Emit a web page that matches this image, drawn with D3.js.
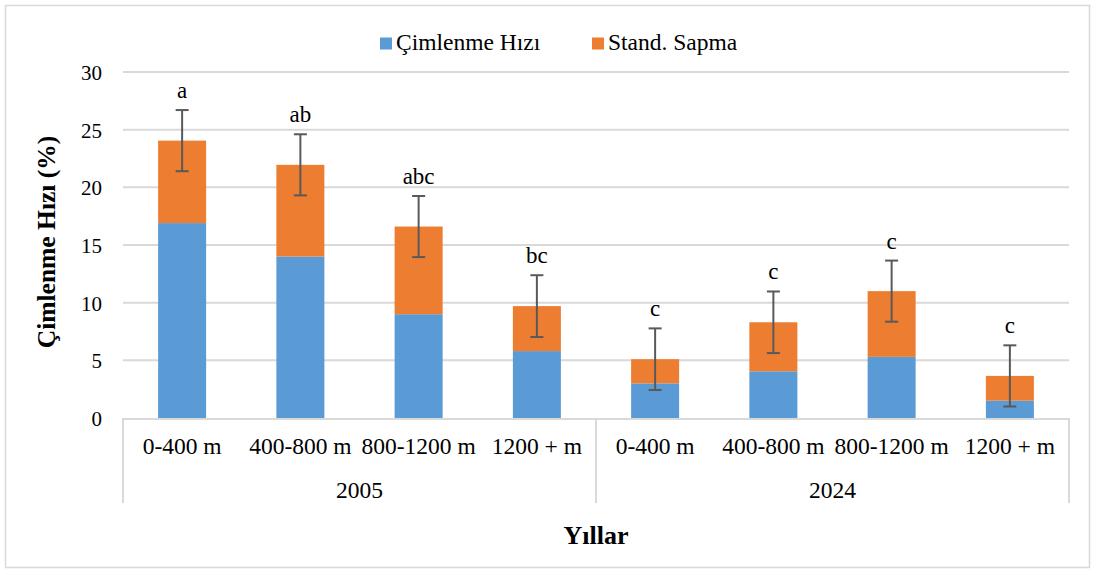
<!DOCTYPE html>
<html><head><meta charset="utf-8">
<script src="https://cdn.jsdelivr.net/npm/d3@7"></script>
<style>body{margin:0;background:#fff}svg{display:block}</style>
</head><body>
<svg id="c" width="1093" height="570"></svg>
<script>
const groups = ["2005","2005","2005","2005","2024","2024","2024","2024"];
const categories = ["0-400 m","400-800 m","800-1200 m","1200 + m","0-400 m","400-800 m","800-1200 m","1200 + m"];
const cimlenme = [16.9, 14.0, 9.0, 5.8, 3.0, 4.05, 5.3, 1.5];
const sapma = [7.15, 7.95, 7.6, 3.9, 2.1, 4.25, 5.7, 2.15];
const errors = [2.65, 2.65, 2.65, 2.68, 2.67, 2.67, 2.65, 2.65];
const letters = ["a","ab","abc","bc","c","c","c","c"];
const yTicks = [0,5,10,15,20,25,30];
const seriesNames = ["Çimlenme Hızı","Stand. Sapma"];
const colors = ["#5b9bd5","#ed7d31"];

const FONT = "'Liberation Serif', 'Times New Roman', serif";
const svg = d3.select("#c").attr("font-family", FONT);
// chart border
svg.append("rect").attr("x",5.5).attr("y",5.5).attr("width",1084).attr("height",562)
  .attr("fill","none").attr("stroke","#d9d9d9").attr("stroke-width",1.5);

const L=123, R=1069, T=72, B=418;
const idx = d3.range(categories.length);
const x = d3.scaleBand().domain(idx).range([L,R]).paddingInner(0.594).paddingOuter(0.297);
const y = d3.scaleLinear().domain([0,30]).range([B,T]);

// grid
svg.append("g").selectAll("line").data(yTicks.filter(d=>d>0)).join("line")
  .attr("x1",L).attr("x2",R).attr("y1",d=>y(d)).attr("y2",d=>y(d))
  .attr("stroke","#d9d9d9").attr("stroke-width",2);

// y axis labels
const yAxis = d3.axisLeft(y).tickValues(yTicks).tickSize(0).tickPadding(0);
const ya = svg.append("g").attr("transform",`translate(102,0)`).call(yAxis);
ya.attr("font-family", FONT).attr("font-size", 21);
ya.select(".domain").remove();
ya.selectAll("text").attr("fill","#000").attr("dy","0.35em");

// stacks
const stackData = idx.map(i=>({i, a:cimlenme[i], b:sapma[i]}));
const stack = d3.stack().keys(["a","b"])(stackData);
svg.append("g").selectAll("g").data(stack).join("g").attr("fill",(d,k)=>colors[k])
  .selectAll("rect").data(d=>d).join("rect")
  .attr("x",d=>x(d.data.i)).attr("width",x.bandwidth())
  .attr("y",d=>y(d[1])).attr("height",d=>y(d[0])-y(d[1]));

// error bars
const eg = svg.append("g").attr("stroke","#595959").attr("stroke-width",2);
idx.forEach(i=>{
  const tot = cimlenme[i]+sapma[i];
  const cx = x(i)+x.bandwidth()/2;
  const y1 = y(tot+errors[i]), y0 = y(tot-errors[i]);
  eg.append("line").attr("x1",cx).attr("x2",cx).attr("y1",y1).attr("y2",y0);
  eg.append("line").attr("x1",cx-6.5).attr("x2",cx+6.5).attr("y1",y1).attr("y2",y1);
  eg.append("line").attr("x1",cx-6.5).attr("x2",cx+6.5).attr("y1",y0).attr("y2",y0);
  svg.append("text").attr("x",cx).attr("y",y1-12).attr("text-anchor","middle")
    .attr("font-size",23).attr("fill","#000").text(letters[i]);
});

// category axis
const ax = svg.append("g").attr("stroke","#d9d9d9").attr("stroke-width",2);
ax.append("line").attr("x1",L).attr("x2",R).attr("y1",B+1).attr("y2",B+1);
[L, (L+R)/2, R].forEach(v=>ax.append("line").attr("x1",v).attr("x2",v).attr("y1",B).attr("y2",503));
svg.append("g").selectAll("text").data(idx).join("text")
  .attr("x",i=>x(i)+x.bandwidth()/2).attr("y",454).attr("text-anchor","middle")
  .attr("font-size",23.5).attr("fill","#000").text(i=>categories[i]);
const groupNames = Array.from(new Set(groups));
svg.append("g").selectAll("text").data(groupNames).join("text")
  .attr("x",(g,k)=>{const ii=idx.filter(i=>groups[i]===g);return (x(ii[0])+x(ii[ii.length-1])+x.bandwidth())/2;})
  .attr("y",498).attr("text-anchor","middle").attr("font-size",23.5).attr("fill","#000").text(g=>g);

// titles
svg.append("text").attr("x",596).attr("y",544).attr("text-anchor","middle")
  .attr("font-size",26).attr("font-weight","bold").attr("fill","#000").text("Yıllar");
svg.append("text").attr("transform","translate(55,242) rotate(-90)").attr("text-anchor","middle")
  .attr("font-size",25.5).attr("font-weight","bold").attr("fill","#000").text("Çimlenme Hızı (%)");

// legend
const lg = svg.append("g");
const legX = [380, 592];
seriesNames.forEach((n,k)=>{
  lg.append("rect").attr("x",legX[k]).attr("y",37.5).attr("width",12).attr("height",12).attr("fill",colors[k]);
  lg.append("text").attr("x",legX[k]+16).attr("y",50).attr("font-size",23.5).attr("fill","#000").text(n);
});
</script>
</body></html>
